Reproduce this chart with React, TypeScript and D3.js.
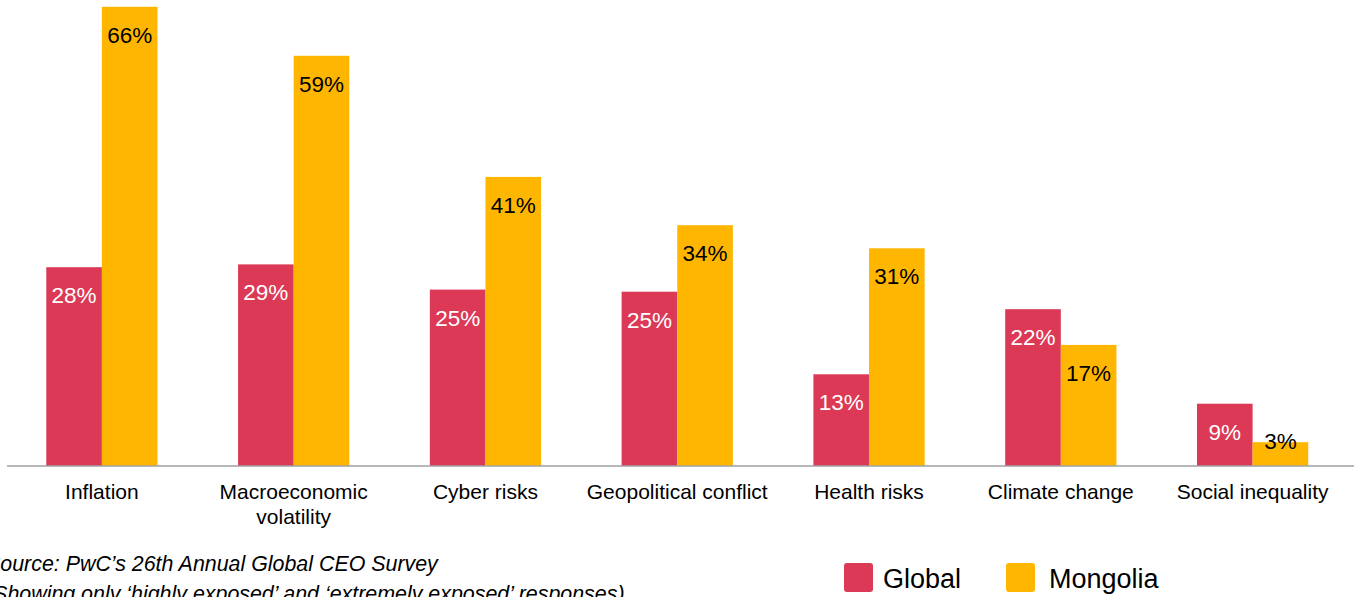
import React from "react";
import * as d3 from "d3";

const categories: string[][] = [
  ["Inflation"],
  ["Macroeconomic", "volatility"],
  ["Cyber risks"],
  ["Geopolitical conflict"],
  ["Health risks"],
  ["Climate change"],
  ["Social inequality"],
];
const seriesNames = ["Global", "Mongolia"];
const globalValues = [28.4, 28.8, 25.2, 24.9, 13.1, 22.4, 8.9];
const mongoliaValues = [65.6, 58.6, 41.3, 34.4, 31.1, 17.3, 3.4];
const globalLabels = ["28%", "29%", "25%", "25%", "13%", "22%", "9%"];
const mongoliaLabels = ["66%", "59%", "41%", "34%", "31%", "17%", "3%"];
const sourceLines = [
  "Source: PwC\u2019s 26th Annual Global CEO Survey",
  "(Showing only \u2018highly exposed\u2019 and \u2018extremely exposed\u2019 responses)",
];

const W = 1354;
const H = 597;
const FONT = "'Liberation Sans', Arial, Helvetica, sans-serif";
const COLORS = ["#DB3956", "#FFB600"];
const LABEL_COLORS = ["#ffffff", "#000000"];
const BASE = 466;

export default function App() {
  const keys = categories.map((c) => c.join(" "));
  const x0 = d3
    .scaleBand<string>()
    .domain(keys)
    .range([6, 1348.5])
    .paddingInner(0.42)
    .paddingOuter(0.21);
  const x1 = d3
    .scaleBand<string>()
    .domain(seriesNames)
    .range([0, x0.bandwidth()]);
  const y = d3.scaleLinear().domain([0, 66]).range([BASE, BASE - 462]);

  const series = [
    { name: seriesNames[0], values: globalValues, labels: globalLabels },
    { name: seriesNames[1], values: mongoliaValues, labels: mongoliaLabels },
  ];

  return (
    <svg
      width={W}
      height={H}
      style={{ position: "absolute", left: 0, top: 0, overflow: "hidden", background: "#fff" }}
      fontFamily={FONT}
    >
      <rect x={0} y={0} width={W} height={H} fill="#fff" />
      {series.map((s, si) =>
        s.values.map((v, i) => {
          const bx = (x0(keys[i]) ?? 0) + (x1(s.name) ?? 0);
          const top = y(v);
          return (
            <g key={`${si}-${i}`}>
              <rect x={bx} y={top} width={x1.bandwidth()} height={BASE - top} fill={COLORS[si]} />
              <text
                x={bx + x1.bandwidth() / 2}
                y={Math.min(top + 36, BASE - 17)}
                textAnchor="middle"
                fontSize={22.5}
                fill={LABEL_COLORS[si]}
              >
                {s.labels[i]}
              </text>
            </g>
          );
        })
      )}
      <line x1={7} x2={W} y1={BASE} y2={BASE} stroke="#a0a0a0" strokeWidth={1.6} />
      {categories.map((lines, i) => (
        <text
          key={keys[i]}
          x={(x0(keys[i]) ?? 0) + x0.bandwidth() / 2}
          y={499}
          textAnchor="middle"
          fontSize={21}
          fill="#000"
        >
          {lines.map((l, j) => (
            <tspan key={j} x={(x0(keys[i]) ?? 0) + x0.bandwidth() / 2} dy={j === 0 ? 0 : 24.5}>
              {l}
            </tspan>
          ))}
        </text>
      ))}
      {sourceLines.map((l, i) => (
        <text key={i} x={-14} y={571 + i * 30} fontSize={21.4} fontStyle="italic" fill="#000">
          {l}
        </text>
      ))}
      {seriesNames.map((n, i) => {
        const lx = [844, 1006][i];
        const tx = [883, 1049][i];
        return (
          <g key={n}>
            <rect x={lx} y={563} width={29} height={29} rx={3} fill={COLORS[i]} />
            <text x={tx} y={588} fontSize={27} fill="#000">
              {n}
            </text>
          </g>
        );
      })}
    </svg>
  );
}
